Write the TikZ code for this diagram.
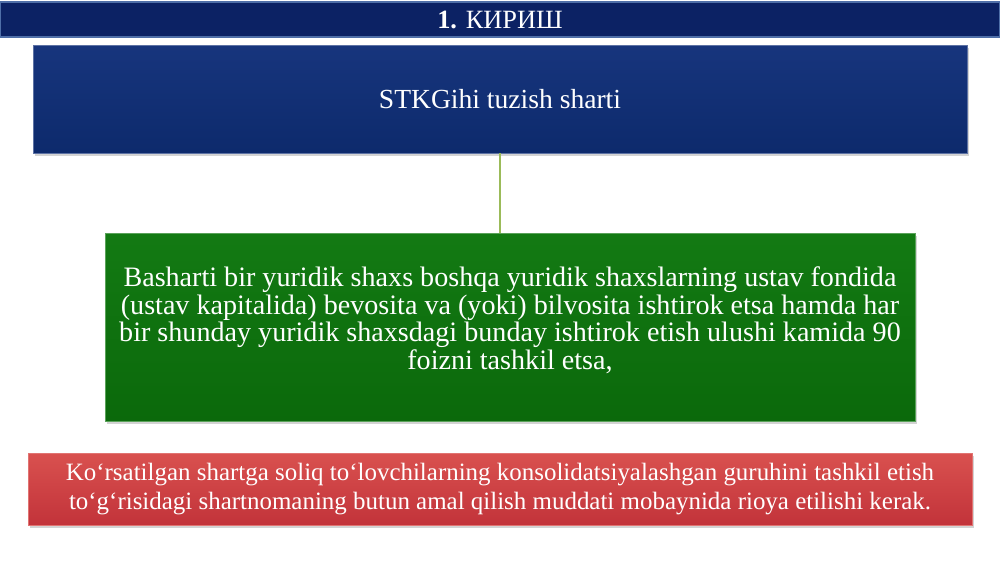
\documentclass[tikz,border=0pt]{standalone}
\usepackage{fontspec}
\setmainfont{Liberation Serif}
\usetikzlibrary{shadows}
\definecolor{titlefill}{HTML}{0C2264}
\definecolor{titleedge}{HTML}{4F6FA8}
\definecolor{bluefill}{HTML}{0D2A6C}
\definecolor{bluetop}{HTML}{17357D}
\definecolor{greenfill}{HTML}{0B690B}
\definecolor{greentop}{HTML}{137A13}
\definecolor{redfill}{HTML}{C2333A}
\definecolor{redtop}{HTML}{D9514F}
\definecolor{linkgreen}{HTML}{9BBB59}
\tikzset{
  boxbase/.style={rectangle, inner sep=0pt, text=white, align=center,
    drop shadow={opacity=0.35, shadow xshift=1.2pt, shadow yshift=-1.5pt}},
  titlebar/.style={rectangle, inner sep=0pt, text=white, fill=titlefill,
    draw=titleedge, line width=1pt, minimum width=20cm, minimum height=0.7cm,
    font=\fontsize{15}{17}\selectfont},
  bluebox/.style={boxbase, top color=bluetop, bottom color=bluefill, draw=bluetop!70!white, line width=0.4pt,
    font=\fontsize{15.7}{18}\selectfont},
  greenbox/.style={boxbase, top color=greentop, bottom color=greenfill, draw=greentop!70!white, line width=0.4pt,
    font=\fontsize{16}{14}\selectfont},
  redbox/.style={boxbase, top color=redtop, bottom color=redfill, draw=redtop!80!white, line width=0.4pt,
    font=\fontsize{14.2}{16.4}\selectfont},
  link/.style={draw=linkgreen, line width=1.2pt}
}
\begin{document}
\begin{tikzpicture}[x=0.02cm,y=-0.02cm]
\useasboundingbox (0,0) rectangle (1000,563);
\node[titlebar] (title) at (500,19.5) {\textbf{1.} КИРИШ};
\node[bluebox, minimum width=18.68cm, minimum height=2.16cm] (cond) at (500,99)
  {STKGihi tuzish sharti};
\node[greenbox, minimum width=16.2cm, minimum height=3.76cm] (rule) at (510,327)
  {Basharti bir yuridik shaxs boshqa yuridik shaxslarning ustav fondida\\
   (ustav kapitalida) bevosita va (yoki) bilvosita ishtirok etsa hamda har\\
   bir shunday yuridik shaxsdagi bunday ishtirok etish ulushi kamida 90\\
   foizni tashkil etsa,\\[-4pt]\mbox{}};
\node[redbox, minimum width=18.88cm, minimum height=1.44cm] (note) at (500,489)
  {Ko‘rsatilgan shartga soliq to‘lovchilarning konsolidatsiyalashgan guruhini tashkil etish\\
   to‘g‘risidagi shartnomaning butun amal qilish muddati mobaynida rioya etilishi kerak.};
\draw[link] (cond.south) -- (cond.south |- rule.north);
\end{tikzpicture}
\end{document}
